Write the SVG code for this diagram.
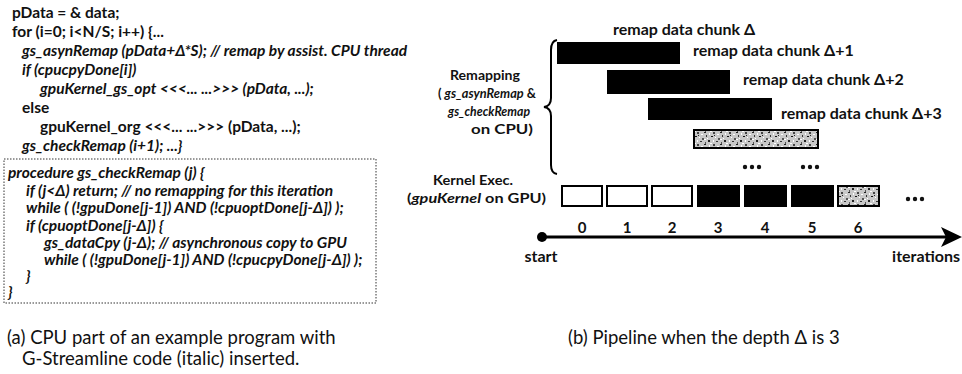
<svg xmlns="http://www.w3.org/2000/svg" width="962" height="374" viewBox="0 0 962 374">
<style>
  .code { font-family: Lato, "Liberation Sans", sans-serif; font-size: 15.5px; font-weight: 700; fill: #111; }
  .it { font-style: italic; }
  .lbl { font-family: Lato, "Liberation Sans", sans-serif; font-size: 16px; font-weight: 700; fill: #111; }
  .side { font-family: Lato, "Liberation Sans", sans-serif; font-size: 14px; font-weight: 700; fill: #111; }
  .cap { font-family: Lato, "Liberation Sans", sans-serif; font-size: 18.5px; font-weight: 400; fill: #111; }
  .num { font-family: Lato, "Liberation Sans", sans-serif; font-size: 15px; font-weight: 700; fill: #111; text-anchor: middle; }
  .bar { fill: #000; }
  .kbox { stroke: #000; stroke-width: 2; }
  .dot { fill: #111; }
</style>
<defs>
  <pattern id="grain" width="16" height="12" patternUnits="userSpaceOnUse">
    <rect width="16" height="12" fill="#c8c8c8"/>
    <rect x="0" y="0" width="2" height="1" fill="#222"/>
    <rect x="5" y="1" width="1" height="2" fill="#fff"/>
    <rect x="9" y="0" width="2" height="2" fill="#444"/>
    <rect x="13" y="2" width="2" height="1" fill="#fff"/>
    <rect x="2" y="3" width="1" height="2" fill="#333"/>
    <rect x="7" y="4" width="2" height="1" fill="#111"/>
    <rect x="11" y="5" width="1" height="1" fill="#fff"/>
    <rect x="14" y="6" width="2" height="2" fill="#555"/>
    <rect x="0" y="7" width="2" height="1" fill="#fff"/>
    <rect x="4" y="8" width="2" height="2" fill="#222"/>
    <rect x="9" y="8" width="1" height="2" fill="#fff"/>
    <rect x="12" y="9" width="2" height="1" fill="#333"/>
    <rect x="1" y="10" width="1" height="2" fill="#555"/>
    <rect x="6" y="11" width="2" height="1" fill="#fff"/>
    <rect x="3" y="6" width="1" height="1" fill="#fff"/>
    <rect x="10" y="3" width="1" height="1" fill="#222"/>
  </pattern>
</defs>

<g id="code-main">
  <text class="code" x="12" y="18">pData = &amp; data;</text>
  <text class="code" x="12" y="37">for (i=0; i&lt;N/S; i++) {...</text>
  <text class="code it" x="22" y="56">gs_asynRemap (pData+Δ*S); // remap by assist. CPU thread</text>
  <text class="code it" x="22" y="75">if (cpucpyDone[i])</text>
  <text class="code it" x="40" y="94">gpuKernel_gs_opt &lt;&lt;&lt;... ...&gt;&gt;&gt; (pData, ...);</text>
  <text class="code" x="22" y="113">else</text>
  <text class="code" x="40" y="132">gpuKernel_org &lt;&lt;&lt;... ...&gt;&gt;&gt; (pData, ...);</text>
  <text class="code it" x="22" y="151">gs_checkRemap (i+1); ...}</text>
</g>

<g id="code-procedure">
  <rect x="4" y="159" width="372" height="144" fill="none" stroke="#333" stroke-width="1" stroke-dasharray="1.5 1.5"/>
  <text class="code it" x="8" y="178">procedure  gs_checkRemap (j) {</text>
  <text class="code it" x="26" y="196">if (j&lt;Δ) return; // no remapping for this iteration</text>
  <text class="code it" x="26" y="213">while ( (!gpuDone[j-1]) AND (!cpuoptDone[j-Δ]) );</text>
  <text class="code it" x="26" y="231">if (cpuoptDone[j-Δ]) {</text>
  <text class="code it" x="44" y="248">gs_dataCpy (j-Δ); // asynchronous copy to GPU</text>
  <text class="code it" x="44" y="265">while ( (!gpuDone[j-1]) AND (!cpucpyDone[j-Δ]) );</text>
  <text class="code it" x="26" y="281">}</text>
  <text class="code it" x="8" y="297">}</text>
</g>

<g id="caption-a">
  <text class="cap" x="7" y="344">(a) CPU part of an example program with</text>
  <text class="cap" x="22" y="365">G-Streamline code (italic) inserted.</text>
</g>

<g id="remap-label">
  <text class="side" x="450" y="80" textLength="70" lengthAdjust="spacingAndGlyphs">Remapping</text>
  <text class="side" x="438" y="98" textLength="98" lengthAdjust="spacingAndGlyphs">( <tspan class="it">gs_asynRemap</tspan> &amp;</text>
  <text class="side it" x="448" y="116" textLength="82" lengthAdjust="spacingAndGlyphs">gs_checkRemap</text>
  <text class="side" x="471" y="134" textLength="62" lengthAdjust="spacingAndGlyphs">on CPU)</text>
</g>

<g id="kernel-label">
  <text class="side" x="433" y="185" textLength="80" lengthAdjust="spacingAndGlyphs">Kernel Exec.</text>
  <text class="side" x="407" y="203" textLength="139" lengthAdjust="spacingAndGlyphs">(<tspan class="it">gpuKernel</tspan> on GPU)</text>
</g>

<g id="brace">
  <path d="M557,40 Q551,41 551,50 L551,98 Q551,106 544,107 Q551,108 551,116 L551,165 Q551,173 557,174" fill="none" stroke="#000" stroke-width="2"/>
</g>

<g id="remap-chunks">
  <text class="lbl" x="613" y="35">remap data chunk Δ</text>
  <rect class="bar" x="557" y="42" width="123" height="22"/>
  <text class="lbl" x="693" y="56">remap data chunk Δ+1</text>
  <rect class="bar" x="607" y="70" width="123" height="24"/>
  <text class="lbl" x="743" y="85">remap data chunk Δ+2</text>
  <rect class="bar" x="648" y="98" width="124" height="22"/>
  <text class="lbl" x="781" y="119">remap data chunk Δ+3</text>
  <rect x="694" y="130" width="124" height="18" fill="url(#grain)" stroke="#000" stroke-width="2"/>
  <g id="dots-remap">
    <circle class="dot" cx="745" cy="167" r="2.2"/><circle class="dot" cx="752" cy="167" r="2.2"/><circle class="dot" cx="759" cy="167" r="2.2"/>
    <circle class="dot" cx="803" cy="167" r="2.2"/><circle class="dot" cx="810" cy="167" r="2.2"/><circle class="dot" cx="817" cy="167" r="2.2"/>
  </g>
</g>

<g id="kernels">
  <rect class="kbox" x="562" y="186" width="40" height="20" fill="#fff"/>
  <rect class="kbox" x="607" y="186" width="40" height="20" fill="#fff"/>
  <rect class="kbox" x="652" y="186" width="40" height="20" fill="#fff"/>
  <rect class="kbox" x="698" y="186" width="41" height="20" fill="#000"/>
  <rect class="kbox" x="745" y="186" width="41" height="20" fill="#000"/>
  <rect class="kbox" x="792" y="186" width="41" height="20" fill="#000"/>
  <rect class="kbox" x="838" y="186" width="41" height="20" fill="url(#grain)"/>
  <circle class="dot" cx="908" cy="199" r="2.2"/><circle class="dot" cx="915" cy="199" r="2.2"/><circle class="dot" cx="922" cy="199" r="2.2"/>
</g>

<g id="iteration-numbers">
  <text class="num" x="582" y="233">0</text>
  <text class="num" x="627" y="233">1</text>
  <text class="num" x="672" y="233">2</text>
  <text class="num" x="718" y="233">3</text>
  <text class="num" x="765" y="233">4</text>
  <text class="num" x="812" y="233">5</text>
  <text class="num" x="858" y="233">6</text>
</g>

<g id="connectors">
  <circle cx="542" cy="237" r="5" fill="#000"/>
  <line x1="542" y1="237" x2="948" y2="237" stroke="#000" stroke-width="3"/>
  <polygon points="962,237 941,227 946,237 941,247" fill="#000"/>
</g>

<g id="axis-labels">
  <text class="lbl" x="541" y="262" text-anchor="middle">start</text>
  <text class="lbl" x="960" y="262" text-anchor="end">iterations</text>
</g>

<g id="caption-b">
  <text class="cap" x="568" y="344">(b) Pipeline when the depth Δ is 3</text>
</g>
</svg>
